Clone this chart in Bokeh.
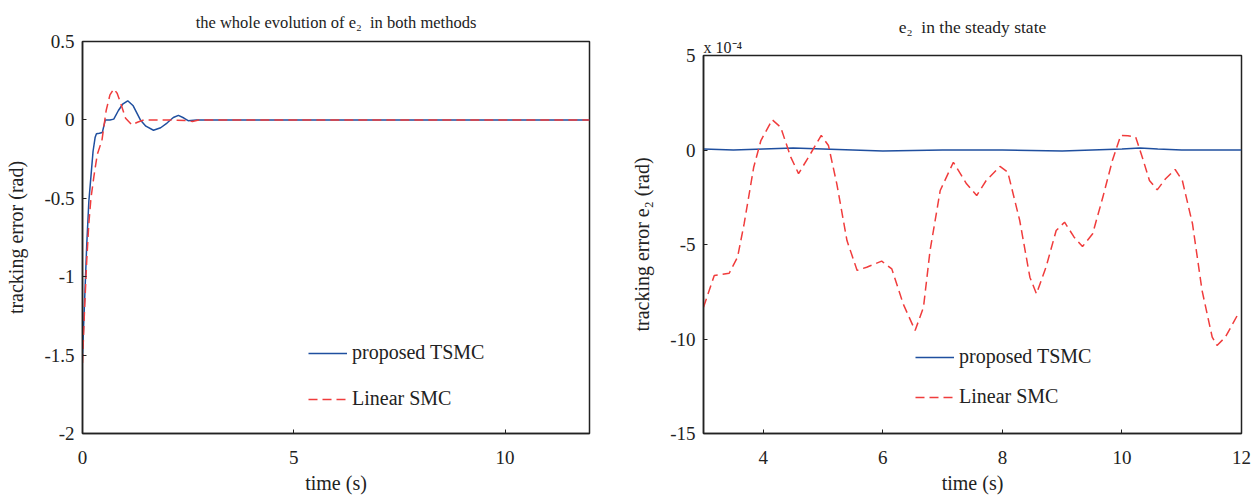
from bokeh.plotting import figure
from bokeh.layouts import row
from bokeh.models import Range1d, FixedTicker, Legend, LegendItem, Title
from bokeh.embed import file_html
from bokeh.resources import INLINE

FONT = "Liberation Serif"

# ---- left panel data (rad) ----
t_tsmc_full = [0, 0.05, 0.1, 0.15, 0.2, 0.25, 0.3, 0.33, 0.4, 0.47, 0.54, 0.65, 0.74, 0.85, 0.95, 1.07,
               1.2, 1.37, 1.5, 1.68, 1.85, 2.0, 2.15, 2.27, 2.4, 2.5, 2.7, 3.0, 12]
e_tsmc_full = [-1.5, -1.15, -0.8, -0.52, -0.36, -0.2, -0.11, -0.088, -0.085, -0.08, 0.0, 0.0, 0.005, 0.06, 0.10,
               0.122, 0.09, 0.0, -0.04, -0.066, -0.05, -0.02, 0.015, 0.029, 0.012, -0.005, 0.0, 0.0, 0.0]
t_lsmc_full = [0, 0.05, 0.1, 0.15, 0.2, 0.27, 0.35, 0.46, 0.56, 0.65, 0.74, 0.82, 0.9, 1.02, 1.17, 1.3,
               1.45, 2.0, 2.5, 2.6, 2.75, 12]
e_lsmc_full = [-1.55, -1.2, -0.9, -0.66, -0.5, -0.36, -0.22, -0.13, 0.06, 0.16, 0.197, 0.17, 0.11, 0.01,
               -0.032, -0.015, 0.0, 0.0, -0.005, -0.01, 0.0, 0.0]

# ---- right panel data (x 1e-4 rad) ----
t_tsmc_ss = [3, 3.5, 4.0, 4.5, 5.0, 5.5, 6.0, 7.0, 8.0, 9.0, 9.5, 10.0, 10.3, 10.6, 11.0, 11.5, 12]
e_tsmc_ss = [0.05, 0.0, 0.05, 0.1, 0.05, 0.0, -0.05, 0.0, 0.0, -0.05, 0.0, 0.05, 0.1, 0.05, 0.0, 0.0, 0.0]
t_lsmc_ss = [3.0, 3.18, 3.43, 3.57, 3.68, 3.84, 3.96, 4.15, 4.29, 4.46, 4.59, 4.79, 4.97, 5.09, 5.23, 5.40,
             5.57, 5.73, 5.98, 6.15, 6.34, 6.54, 6.68, 6.79, 6.96, 7.18, 7.40, 7.57, 7.73, 7.96, 8.09, 8.29,
             8.46, 8.57, 8.73, 8.90, 9.04, 9.20, 9.34, 9.51, 9.68, 9.84, 9.98, 10.1, 10.23, 10.34, 10.46,
             10.59, 10.73, 10.89, 11.01, 11.18, 11.34, 11.51, 11.59, 11.73, 11.96]
e_lsmc_ss = [-8.32, -6.64, -6.52, -5.67, -3.90, -0.91, 0.50, 1.60, 1.21, -0.38, -1.25, -0.2, 0.77, 0.24,
             -1.79, -4.79, -6.37, -6.2, -5.88, -6.29, -8.14, -9.55, -8.32, -5.32, -2.14, -0.65, -1.79,
             -2.41, -1.61, -0.87, -1.17, -3.73, -6.73, -7.61, -6.2, -4.26, -3.82, -4.61, -5.11, -4.43,
             -2.50, -0.56, 0.77, 0.75, 0.68, -0.38, -1.61, -2.11, -1.52, -1.03, -1.61, -3.90, -7.43,
             -9.90, -10.34, -9.90, -8.58]

left_xticks = [0, 5, 10]
left_yticks = [-2, -1.5, -1, -0.5, 0, 0.5]
right_xticks = [4, 6, 8, 10, 12]
right_yticks = [-15, -10, -5, 0, 5]

BLUE = "#1f4f9f"
RED = "#f03c3c"
INK = "#222222"


def fmt(v):
    return ("%g" % v)


def style(p, xticks, yticks, ylab):
    p.outline_line_color = INK
    p.outline_line_width = 1.5
    p.xgrid.visible = False
    p.ygrid.visible = False
    for ax in p.xaxis + p.yaxis:
        ax.major_label_text_font = FONT
        ax.major_label_text_font_size = "19px"
        ax.major_label_text_color = INK
        ax.axis_label_text_font = FONT
        ax.axis_label_text_font_size = "20px"
        ax.axis_label_text_font_style = "normal"
        ax.axis_label_text_color = INK
        ax.major_tick_in = 4
        ax.major_tick_out = 0
        ax.minor_tick_line_color = None
        ax.axis_line_color = INK
        ax.axis_line_width = 1.5
        ax.major_tick_line_color = INK
    p.xaxis.ticker = FixedTicker(ticks=xticks)
    p.yaxis.ticker = FixedTicker(ticks=yticks)
    p.xaxis.major_label_overrides = {t: fmt(t) for t in xticks}
    p.yaxis.major_label_overrides = {t: fmt(t) for t in yticks}
    p.xaxis.axis_label = "time (s)"
    p.yaxis.axis_label = ylab
    p.xaxis.major_label_standoff = 17
    p.xaxis.axis_label_standoff = 5
    p.yaxis.major_label_standoff = 8
    p.yaxis.axis_label_standoff = 14


p1 = figure(width=620, height=499, x_range=Range1d(0, 12), y_range=Range1d(-2, 0.5),
            output_backend="svg", toolbar_location=None, frame_align=False,
            min_border_left=82, min_border_right=31, min_border_top=41, min_border_bottom=66)
style(p1, left_xticks, left_yticks, "tracking error (rad)")
p1.add_layout(Title(text="the whole evolution of e\u2082\u00a0 in both methods", align="center",
                    text_font=FONT, text_font_size="16.5px", text_font_style="normal",
                    text_color=INK, standoff=20), "above")
r1 = p1.line(t_tsmc_full, e_tsmc_full, line_color=BLUE, line_width=1.5)
r2 = p1.line(t_lsmc_full, e_lsmc_full, line_color=RED, line_width=1.5, line_dash="9 5")
leg1 = Legend(items=[LegendItem(label="proposed TSMC", renderers=[r1]),
                     LegendItem(label="Linear SMC", renderers=[r2])],
              location=(226, 23))

p2 = figure(width=632, height=499, x_range=Range1d(3, 12), y_range=Range1d(-15, 5),
            output_backend="svg", toolbar_location=None, frame_align=False,
            min_border_left=83, min_border_right=11, min_border_top=55, min_border_bottom=66)
style(p2, right_xticks, right_yticks, "tracking error e\u2082 (rad)")
p2.add_layout(Title(text="x 10\u207b\u2074", align="left",
                    text_font=FONT, text_font_size="16px", text_font_style="normal",
                    text_color=INK, standoff=0), "above")
p2.add_layout(Title(text="e\u2082\u00a0 in the steady state", align="center",
                    text_font=FONT, text_font_size="17.5px", text_font_style="normal",
                    text_color=INK, standoff=0), "above")
r3 = p2.line(t_tsmc_ss, e_tsmc_ss, line_color=BLUE, line_width=1.5)
r4 = p2.line(t_lsmc_ss, e_lsmc_ss, line_color=RED, line_width=1.5, line_dash="9 5")
leg2 = Legend(items=[LegendItem(label="proposed TSMC", renderers=[r3]),
                     LegendItem(label="Linear SMC", renderers=[r4])],
              location=(212, 25))

for leg, sp in ((leg1, 23), (leg2, 17)):
    leg.border_line_color = None
    leg.background_fill_alpha = 0
    leg.padding = 0
    leg.margin = 0
    leg.spacing = sp
    leg.label_height = 20
    leg.glyph_height = 20
    leg.glyph_width = 39
    leg.label_standoff = 5
    leg.label_text_font = FONT
    leg.label_text_font_size = "20px"
    leg.label_text_color = INK
p1.add_layout(leg1)
p2.add_layout(leg2)

layout = row(p1, p2)
open("out.html", "w").write(file_html(layout, INLINE))
